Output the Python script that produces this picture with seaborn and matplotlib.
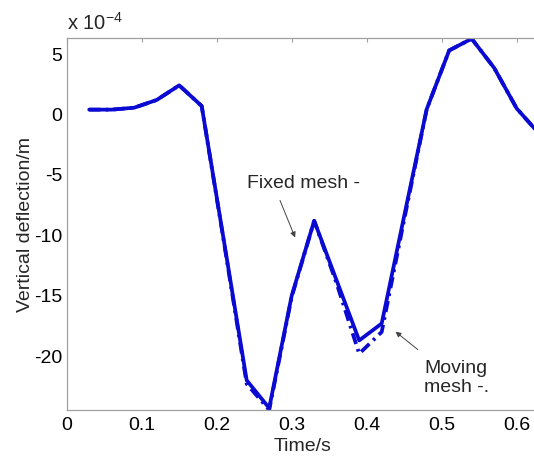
import pandas as pd
import matplotlib
matplotlib.use("Agg")
import matplotlib.pyplot as plt
import seaborn as sns

# values in units of 1e-4 m
time = [0.03, 0.06, 0.09, 0.12, 0.15, 0.18, 0.21, 0.24, 0.27, 0.30, 0.33,
        0.36, 0.39, 0.42, 0.45, 0.48, 0.51, 0.54, 0.57, 0.60, 0.63]
fixed_mesh = [0.40, 0.40, 0.56, 1.20, 2.41, 0.70, -10.6, -22.0, -24.3, -15.0, -8.8,
              -13.75, -18.7, -17.3, -8.4, 0.43, 5.3, 6.27, 3.85, 0.50, -1.6]
moving_mesh = [0.40, 0.40, 0.56, 1.20, 2.41, 0.70, -10.7, -22.3, -24.45, -15.1, -8.8,
               -14.0, -19.8, -18.0, -8.7, 0.43, 5.3, 6.27, 3.85, 0.50, -1.6]
x_ticks = [0, 0.1, 0.2, 0.3, 0.4, 0.5, 0.6]
x_tick_labels = ["0", "0.1", "0.2", "0.3", "0.4", "0.5", "0.6"]
y_ticks = [5, 0, -5, -10, -15, -20]

df = pd.DataFrame({
    "time": time * 2,
    "deflection": fixed_mesh + moving_mesh,
    "mesh": ["Fixed"] * len(time) + ["Moving"] * len(time),
})

sns.set_style("white")
plt.rcParams["font.family"] = ["Liberation Sans", "DejaVu Sans"]
plt.rcParams["axes.unicode_minus"] = False

blue = "#0a0ad2"
grey = "#a0a0a0"
fs = 14

fig = plt.figure(figsize=(5.34, 4.57), dpi=100)
ax = fig.add_axes([0.1249, 0.1028, 0.882, 0.8133])

sns.lineplot(data=df, x="time", y="deflection", hue="mesh", style="mesh",
             palette=[blue, blue], dashes={"Fixed": "", "Moving": (3, 1.4, 0.7, 1.4)},
             linewidth=2.7, legend=False, sort=False, ax=ax)

ax.set_xlim(0, 0.628)
ax.set_ylim(-24.46, 6.30)
ax.set_xticks(x_ticks)
ax.set_xticklabels(x_tick_labels)
ax.set_yticks(y_ticks)
ax.set_yticklabels([str(v) for v in y_ticks])
ax.tick_params(direction="in", length=3, width=0.8, color=grey,
               top=True, right=True, labelsize=fs, labelcolor="black")
ax.tick_params(axis="x", pad=5)
ax.tick_params(axis="y", pad=3)
for s in ax.spines.values():
    s.set_color(grey)
    s.set_linewidth(0.9)

ax.set_xlabel("Time/s", fontsize=fs, labelpad=3)
ax.set_ylabel("Vertical deflection/m", fontsize=fs, labelpad=0)

ax.text(0.0, 1.012, r"x 10$^{\mathregular{-4}}$", transform=ax.transAxes,
        fontsize=fs + 0.5, ha="left", va="bottom")

ax.annotate("", xy=(0.306, -10.4), xytext=(0.283, -6.9),
            arrowprops=dict(arrowstyle="-|>", color="#444444", lw=0.7, mutation_scale=8))
ax.text(0.241, -5.74, "Fixed mesh -", fontsize=fs, ha="left", va="center")

ax.annotate("", xy=(0.4355, -17.83), xytext=(0.471, -19.6),
            arrowprops=dict(arrowstyle="-|>", color="#444444", lw=0.7, mutation_scale=8))
ax.text(0.4764, -21.8, "Moving\nmesh -.", fontsize=fs, ha="left", va="center",
        linespacing=1.1)

fig.savefig("out.png", dpi=100)
plt.close(fig)
